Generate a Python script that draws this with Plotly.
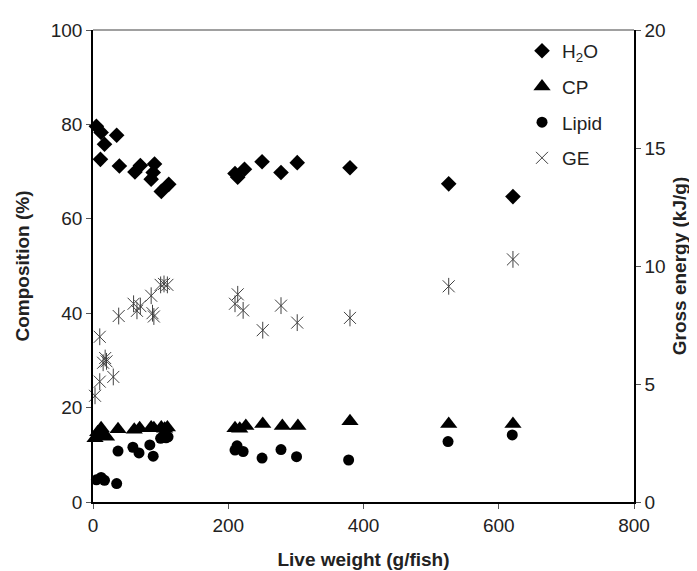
import plotly.graph_objects as go

# ---- data ----
h2o_x = [5, 12, 17, 11, 35, 39, 62, 70, 91, 89, 86, 101, 112, 210, 214, 224, 250, 278, 302, 380, 526, 621]
h2o_y = [79.6, 78.3, 75.8, 72.6, 77.7, 71.2, 69.9, 71.3, 71.6, 69.8, 68.4, 65.8, 67.3, 69.6, 68.8, 70.5, 72.1, 69.8, 71.9, 70.8, 67.4, 64.7]

cp_x = [3, 7, 12, 16, 20, 37, 61, 69, 86, 90, 101, 106, 110, 210, 217, 226, 251, 280, 303, 380, 526, 621]
cp_y = [13.5, 14.8, 15.6, 14.2, 13.8, 15.4, 15.3, 15.6, 15.8, 15.6, 15.8, 15.5, 15.8, 15.6, 15.5, 16.1, 16.5, 16.1, 16.1, 17.1, 16.5, 16.5]

lipid_x = [5, 12, 17, 35, 37, 59, 68, 84, 89, 100, 104, 108, 111, 210, 213, 222, 250, 278, 301, 378, 525, 620]
lipid_y = [4.7, 5.2, 4.6, 3.9, 10.8, 11.6, 10.4, 12.1, 9.7, 13.5, 14.0, 13.6, 13.8, 11.0, 11.9, 10.7, 9.3, 11.1, 9.6, 8.9, 12.8, 14.2]

ge_x = [3, 10, 10, 15, 18, 20, 30, 38, 60, 65, 70, 86, 88, 90, 100, 105, 110, 210, 214, 222, 251, 278, 302, 380, 526, 621]
ge_y = [4.5, 5.1, 7.0, 5.9, 6.1, 5.96, 5.3, 7.88, 8.4, 8.1, 8.3, 8.74, 8.0, 7.86, 9.2, 9.24, 9.2, 8.4, 8.8, 8.12, 7.28, 8.32, 7.6, 7.8, 9.14, 10.28]

x_ticks = [0, 200, 400, 600, 800]
y_ticks = [0, 20, 40, 60, 80, 100]
y2_ticks = [0, 5, 10, 15, 20]

FONT = "Liberation Sans, Arial, sans-serif"
STAR = "#404040"

fig = go.Figure()
fig.add_trace(go.Scatter(x=h2o_x, y=h2o_y, mode="markers", name="H<sub>2</sub>O",
                         legendgroup="a", cliponaxis=False,
                         marker=dict(symbol="diamond", size=12, color="black", line=dict(width=0))))
fig.add_trace(go.Scatter(x=cp_x, y=cp_y, mode="markers", name="CP",
                         legendgroup="b", cliponaxis=False,
                         marker=dict(symbol="triangle-up", size=15, color="black", line=dict(width=0))))
fig.add_trace(go.Scatter(x=lipid_x, y=lipid_y, mode="markers", name="Lipid",
                         legendgroup="c", cliponaxis=False,
                         marker=dict(symbol="circle", size=11, color="black", line=dict(width=0))))
fig.add_trace(go.Scatter(x=ge_x, y=ge_y, mode="markers", name="GE", yaxis="y2",
                         legendgroup="d", cliponaxis=False,
                         marker=dict(symbol="x-thin-open", size=12, color=STAR, line=dict(width=1, color=STAR))))
fig.add_trace(go.Scatter(x=ge_x, y=ge_y, mode="markers", name="GE", yaxis="y2",
                         legendgroup="d", showlegend=False, cliponaxis=False,
                         marker=dict(symbol="line-ns-open", size=12, color=STAR, line=dict(width=1, color=STAR))))

axis_common = dict(showline=True, linecolor="black", linewidth=1.5, ticks="outside",
                   ticklen=5, tickcolor="#555", showgrid=False, zeroline=False,
                   tickfont=dict(family=FONT, size=19, color="#222"))

fig.update_layout(
    width=697, height=571, autosize=False,
    margin=dict(l=85, r=71, t=14, b=73),
    paper_bgcolor="white", plot_bgcolor="white",
    font=dict(family=FONT, color="#222"),
    xaxis=dict(range=[0, 800], tickvals=x_ticks,
               title=dict(text="<b>Live weight (g/fish)</b>", font=dict(family=FONT, size=19), standoff=18),
               **axis_common),
    yaxis=dict(range=[0, 100], tickvals=y_ticks,
               title=dict(text="<b>Composition (%)</b>", font=dict(family=FONT, size=19), standoff=16),
               **axis_common),
    yaxis2=dict(range=[0, 20], tickvals=y2_ticks, overlaying="y", side="right",
                title=dict(text="<b>Gross energy (kJ/g)</b>", font=dict(family=FONT, size=19), standoff=8),
                **axis_common),
    legend=dict(x=0.793, y=0.996, xanchor="left", yanchor="top", bgcolor="rgba(0,0,0,0)",
                font=dict(family=FONT, size=19, color="#222"), tracegroupgap=8,
                itemwidth=30),
    showlegend=True,
    shapes=[dict(type="line", xref="paper", yref="paper", x0=0, x1=1, y0=1, y1=1,
                 line=dict(color="#808080", width=1.5))],
)

fig.write_html("out.html")
